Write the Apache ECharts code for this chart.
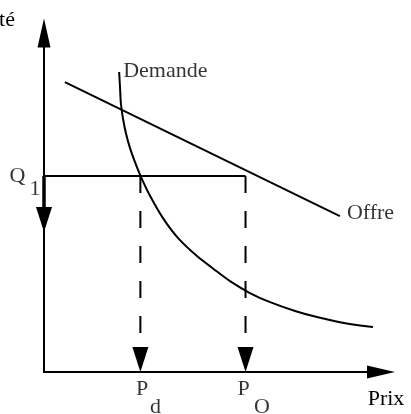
<!DOCTYPE html>
<html lang="fr">
<head>
<meta charset="UTF-8">
<title>Offre / Demande</title>
<script src="https://cdn.jsdelivr.net/npm/echarts@6/dist/echarts.min.js"></script>
<style>
  html, body { margin: 0; padding: 0; background: #fff; }
  #main { width: 411px; height: 414px; }
</style>
</head>
<body>
<div id="main"></div>
<script>
    // valeurs (unités 0..100 sur chaque axe)
    const offreData = [[6.2, 85.5], [87.8, 46.0]];
    const demandeData = [
        [22.3, 88.5], [22.6, 83.2], [22.8, 79.4], [23.4, 75.0], [24.3, 70.5],
        [25.5, 66.1], [27.0, 61.9], [28.8, 57.5], [31.5, 51.9], [35.3, 45.4],
        [39.8, 39.5], [45.4, 34.2], [50.7, 30.1], [55.2, 26.8], [61.1, 23.3],
        [67.1, 20.6], [74.5, 18.0], [81.0, 16.2], [87.8, 14.7], [93.8, 13.7], [97.6, 13.3]
    ];
    const q1 = 57.8;          // niveau Q1
    const pd = 28.6;          // prix Pd
    const po = 59.8;          // prix PO
    const dashEnd = 6.5;      // bas des pointillés
    const qArrowBase = 48.7;  // base de la flèche sous Q1
    const qArrowTip = 41.3;   // pointe de la flèche sous Q1
    const prixSubs = ['d', 'O'];

    const font = 'Liberation Serif';
    const black = '#000';
    const txt = {fontFamily: font, fontSize: 22, color: black};

    let myChart = echarts.init(document.getElementById('main'));

    //segments noirs
    function seg(data, width, type) {
        return {
            type: 'line',
            data: data,
            symbol: 'none',
            silent: true,
            lineStyle: {color: black, width: width, type: type || 'solid'}
        };
    }

    //étiquettes posées sur des points
    function labels(data) {
        return {
            type: 'scatter',
            silent: true,
            symbolSize: 0,
            itemStyle: {color: black},
            data: data
        };
    }

    let option = {
        animation: false,
        grid: {left: 44, right: 30, top: 33, bottom: 42, containLabel: false, outerBoundsMode: 'none'},
        xAxis: {
            type: 'value', min: 0, max: 100,
            name: 'Prix', nameLocation: 'end', nameGap: 5,
            nameTextStyle: Object.assign({align: 'center', verticalAlign: 'top', padding: [16, 0, 0, 0]}, txt),
            axisLine: {lineStyle: {color: black, width: 2}, symbol: ['none', 'triangle'], symbolSize: [13, 28]},
            axisTick: {show: false}, axisLabel: {show: false}, splitLine: {show: false}
        },
        yAxis: {
            type: 'value', min: 0, max: 100,
            name: 'Quantité', nameLocation: 'end', nameGap: 2,
            nameTextStyle: Object.assign({align: 'right', padding: [0, 29, 0, 0]}, txt),
            axisLine: {lineStyle: {color: black, width: 2}, symbol: ['none', 'triangle'], symbolSize: [13, 29]},
            axisTick: {show: false}, axisLabel: {show: false}, splitLine: {show: false}
        },
        series: [
            // Offre
            seg(offreData, 2),
            // Demande
            Object.assign(seg(demandeData, 2), {smooth: 0.25}),
            // Q1 horizontal
            seg([[0, q1], [po, q1]], 2),
            // pointillés
            seg([[pd, q1], [pd, dashEnd]], 2, [17, 18]),
            seg([[po, q1], [po, dashEnd]], 2, [17, 18]),
            // trait épais sous Q1
            seg([[0, q1], [0, qArrowBase]], 3.5),
            // flèches
            {
                type: 'scatter',
                silent: true,
                symbol: 'triangle',
                symbolRotate: 180,
                symbolSize: [16, 25],
                symbolOffset: [0, -12.5],
                itemStyle: {color: black, opacity: 1},
                data: [[pd, 0], [po, 0], [0, qArrowTip]]
            },
            // noms des courbes
            labels([
                {value: offreData[offreData.length - 1], label: Object.assign({show: true, formatter: 'Offre', position: 'right', distance: 7, offset: [0, -3]}, txt)},
                {value: demandeData[0], label: Object.assign({show: true, formatter: 'Demande', position: 'right', distance: 4, offset: [0, -1]}, txt)}
            ]),
            // P
            labels([
                {value: [pd, 0], label: Object.assign({show: true, formatter: 'P', position: 'bottom', distance: 6, align: 'left', offset: [-4.5, 0]}, txt)},
                {value: [po, 0], label: Object.assign({show: true, formatter: 'P', position: 'bottom', distance: 6, align: 'left', offset: [-8, 0]}, txt)}
            ]),
            // indices d / O
            labels([
                {value: [pd, 0], label: Object.assign({show: true, formatter: prixSubs[0], position: 'bottom', distance: 6, align: 'left', offset: [9.5, 18]}, txt)},
                {value: [po, 0], label: Object.assign({show: true, formatter: prixSubs[1], position: 'bottom', distance: 6, align: 'left', offset: [8.5, 18]}, txt)}
            ]),
            // Q et indice 1
            labels([
                {value: [0, q1], label: Object.assign({show: true, formatter: 'Q', position: 'left', distance: 18.5, offset: [0, 0]}, txt)},
                {value: [0, q1], label: Object.assign({show: true, formatter: '1', position: 'left', distance: 3.5, offset: [0, 13]}, txt)}
            ])
        ]
    };
    myChart.setOption(option);
</script>
</body>
</html>
